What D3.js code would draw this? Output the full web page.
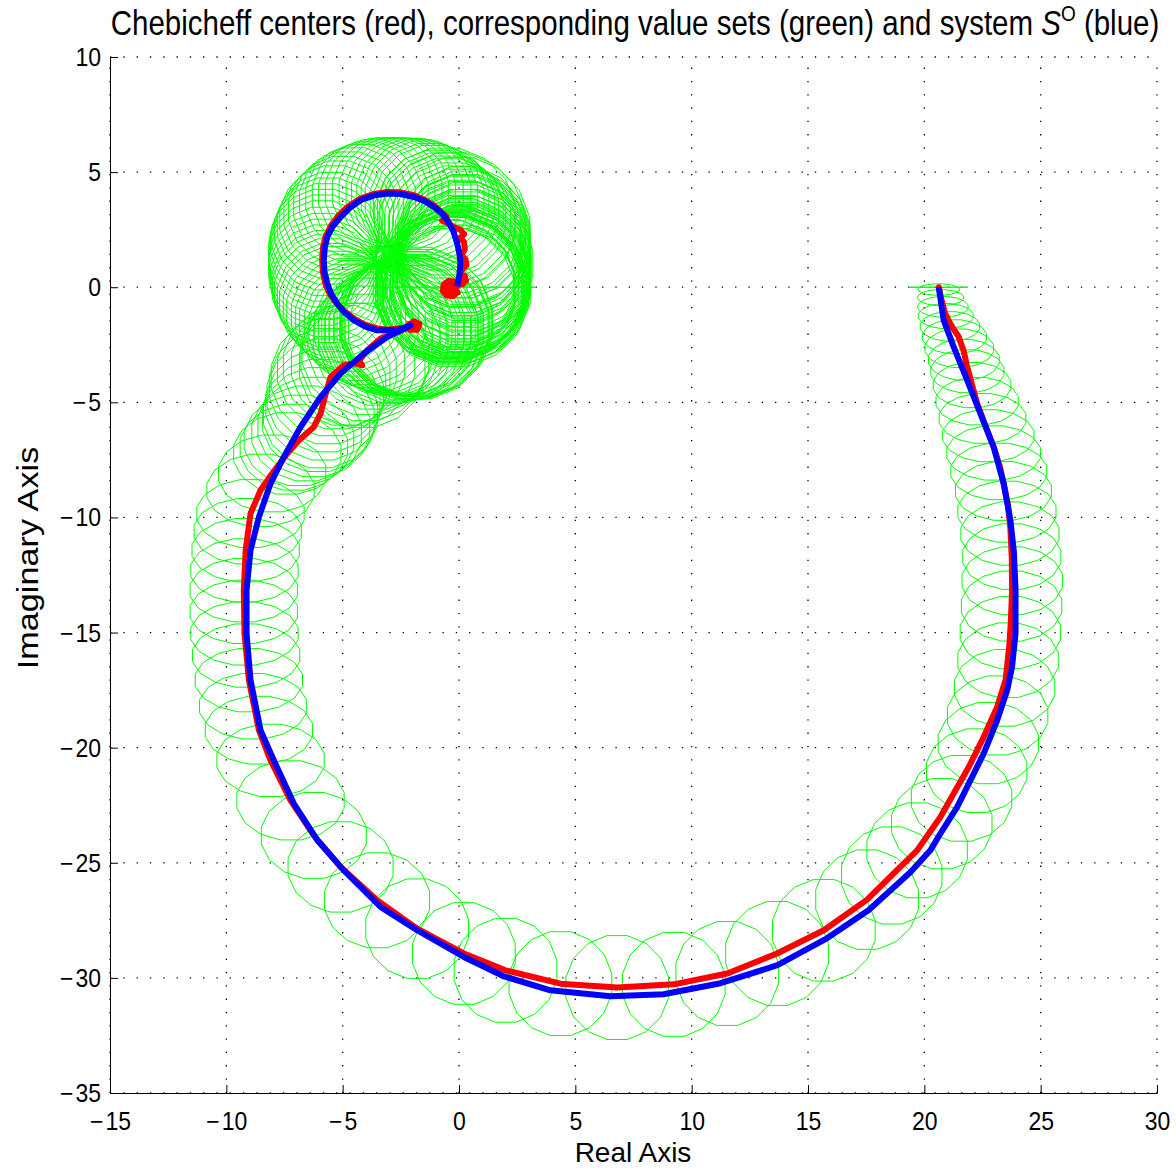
<!DOCTYPE html>
<html>
<head>
<meta charset="utf-8">
<script src="https://cdn.jsdelivr.net/npm/d3@7"></script>
<style>
  html, body { margin: 0; padding: 0; background: #fff; }
  svg { display: block; }
  text { font-family: "Liberation Sans", Arial, Helvetica, sans-serif; fill: #000; }
</style>
</head>
<body>
<svg id="chart" width="1176" height="1168"></svg>
<script>
// Axis ticks
const xTicks = [-15, -10, -5, 0, 5, 10, 15, 20, 25, 30];
const yTicks = [-35, -30, -25, -20, -15, -10, -5, 0, 5, 10];

// Nominal system S^O frequency response (real, imaginary)
const blueRe = [20.62, 20.83, 21.26, 21.84, 22.41, 22.98, 23.41, 23.70, 23.85, 23.92, 23.92, 23.77, 23.56, 23.13, 22.55, 21.98, 21.41, 20.69, 20.26, 19.40, 17.60, 15.75, 13.69, 11.24, 8.79, 6.51, 3.93, 1.90, 0.21, -1.80, -3.37, -4.95, -6.09, -7.10, -7.96, -8.53, -8.96, -9.13, -9.13, -8.96, -8.60, -8.10, -7.53, -6.81, -5.95, -5.09, -4.09, -3.09, -2.08, -2.66, -3.52, -4.05, -4.52, -4.92, -5.24, -5.50, -5.66, -5.78, -5.81, -5.77, -5.66, -5.42, -5.09, -4.69, -4.23, -3.68, -3.09, -2.50, -1.94, -1.48, -1.08, -0.75, -0.50, -0.25, -0.08, 0.02, 0.06, 0.02, -0.08];
const blueIm = [0.00, -1.43, -2.59, -4.04, -5.49, -6.94, -8.53, -10.12, -11.50, -13.16, -15.04, -16.49, -17.51, -18.81, -20.26, -21.42, -22.58, -23.73, -24.46, -25.41, -27.06, -28.32, -29.45, -30.23, -30.71, -30.80, -30.54, -29.92, -29.09, -27.93, -26.92, -25.33, -24.02, -22.43, -20.55, -19.24, -17.07, -15.04, -13.16, -11.42, -9.98, -8.53, -7.37, -6.07, -4.77, -3.75, -2.88, -2.16, -1.65, -1.87, -1.87, -1.70, -1.43, -1.10, -0.71, -0.28, 0.16, 0.66, 1.17, 1.69, 2.19, 2.65, 3.05, 3.45, 3.78, 3.98, 4.07, 4.05, 3.92, 3.74, 3.49, 3.22, 2.91, 2.45, 1.90, 1.45, 1.03, 0.55, 0.04];

// Chebicheff centers (real, imaginary)
const redRe = [
  20.62, 20.75, 20.89, 21.15, 21.48, 21.70, 21.84, 22.27, 22.62, 22.98, 23.25, 23.41, 23.60, 23.70, 23.76, 23.77, 23.72, 23.65, 23.49, 23.13,
  22.55, 21.91, 21.26, 20.69, 19.69, 17.54, 15.68, 13.67, 11.53, 9.23, 6.80, 4.36, 2.00, 0.21, -1.80, -3.52, -5.09, -6.24, -7.24, -8.10,
  -8.60, -9.03, -9.22, -9.25, -9.17, -8.96, -8.53, -8.03, -7.38, -6.88, -6.24, -5.95, -5.75, -5.52, -4.95, -4.45, -4.16, -4.30, -3.95, -3.37,
  -2.80, -2.30, -1.95, -1.70, -1.80, -2.10, -2.15, -1.90, -1.85, -2.00, -2.20,
  -2.66, -3.10, -3.52, -4.05, -4.52, -4.95, -5.31, -5.58, -5.74, -5.85, -5.88, -5.85, -5.74, -5.50, -5.17, -4.75, -4.23, -3.68, -3.09, -2.50,
  -1.94, -1.48, -1.08, -0.80, -0.55, -0.72, -0.50, -0.20, 0.05, 0.22, 0.05, 0.22, 0.25, 0.10, 0.28, 0.32, 0.12,
  0.05, 0.25, 0.30, 0.15, -0.02, 0.08, 0.18,
  -0.05, -0.20, -0.45, -0.66, -0.70, -0.52, -0.25, -0.06, -0.17, -0.30, -0.52, -0.48, -0.28, -0.32, -0.40];
const redIm = [
  0.00, -0.60, -1.14, -1.65, -2.16, -2.80, -3.46, -5.05, -6.00, -6.94, -7.80, -8.53, -9.50, -10.50, -11.80, -13.16, -14.50, -15.60, -17.07, -18.23,
  -19.54, -20.84, -21.99, -23.01, -24.46, -26.60, -27.93, -28.94, -29.81, -30.28, -30.42, -30.25, -29.67, -28.94, -27.86, -26.63, -25.18, -23.81, -22.29, -20.55,
  -19.24, -17.07, -15.04, -13.16, -11.42, -9.83, -8.82, -8.09, -7.22, -6.65, -6.07, -5.49, -4.70, -3.90, -3.39, -3.30, -3.39, -3.20, -2.74, -2.23,
  -2.01, -1.80, -1.48, -1.60, -1.85, -1.85, -1.60, -1.55, -1.70, -1.70, -1.75,
  -1.79, -1.85, -1.79, -1.62, -1.36, -1.02, -0.64, -0.25, 0.16, 0.65, 1.17, 1.70, 2.19, 2.68, 3.13, 3.52, 3.85, 4.05, 4.14, 4.12,
  4.00, 3.80, 3.56, 3.30, 3.08, 2.88, 2.80, 2.60, 2.50, 2.30, 2.15, 1.95, 1.65, 1.40, 1.20, 0.95, 0.75,
  0.60, 0.48, 0.28, 0.13, 0.25, 0.42, 0.30,
  0.05, 0.25, 0.27, 0.12, -0.15, -0.36, -0.38, -0.22, -0.02, 0.12, 0.02, -0.22, -0.24, -0.06, -0.06];

// Value sets: center (real, imaginary) and half-widths along the two axes
const setRe = [
  20.60, 20.62, 20.70, 20.80, 20.92, 21.10, 21.30, 21.50, 21.70, 21.85,
  22.05, 22.27, 22.50, 22.75, 22.98, 23.20, 23.40, 23.55, 23.68, 23.76,
  23.78, 23.75, 23.70, 23.60, 23.45, 23.15, 22.75, 22.25, 21.60, 20.75,
  19.69, 18.60, 17.54, 15.68, 13.67, 11.53, 9.23, 6.80, 4.36, 2.00,
  0.21, -1.80, -3.52, -5.09, -6.24, -7.24, -8.10, -8.60, -8.85, -9.03,
  -9.15, -9.22, -9.25, -9.25, -9.22, -9.17, -9.08, -8.96, -8.53, -8.03,
  -7.38, -7.10, -6.88, -6.55, -6.24, -6.05, -5.95, -5.85, -5.75, -5.65,
  -5.52, -5.25, -4.95, -4.55, -4.16, -4.05, -3.95, -3.65, -3.37, -3.10,
  -2.80, -2.55, -2.30, -2.10, -1.94, -1.85, -2.00,
  -1.75, -1.80, -2.05, -2.20, -1.95, -1.85,
  -2.40, -2.66, -2.90, -3.10, -3.30, -3.52, -3.80, -4.05, -4.30, -4.52,
  -4.75, -4.95, -5.15, -5.31, -5.45, -5.58, -5.66, -5.74, -5.80, -5.85,
  -5.87, -5.88, -5.87, -5.85, -5.80, -5.74, -5.63, -5.50, -5.35, -5.17,
  -4.97, -4.75, -4.50, -4.23, -3.95, -3.68, -3.39, -3.09, -2.80, -2.50,
  -2.22, -1.94, -1.70, -1.48, -1.27, -1.08, -0.90, -0.75, -0.65, -0.48,
  -0.30, -0.12, 0.06, 0.18, 0.21, 0.25, 0.28, 0.20, 0.14, 0.18,
  0.14, 0.05, -0.05, -0.15, -0.22, -0.30, -0.37, -0.45, -0.30, -0.20,
  -0.45, -0.35, -0.25, -0.10,
  0.30, 0.25, 0.15, 0.28, 0.20, 0.32, 0.25, 0.12, 0.30, 0.20,
  0.05, 0.25, 0.30, 0.10, -0.05, -0.20, -0.50, -0.60, -0.55, -0.35,
  -0.15, -0.05, -0.40, -0.25, -0.10, 0.00, 0.10, 0.15, 0.10,
  -0.60, -0.30, 0.00, 0.20,
  0.00];
const setIm = [
  0.00, -0.10, -0.45, -0.85, -1.25, -1.70, -2.15, -2.65, -3.15, -3.65,
  -4.25, -4.95, -5.70, -6.45, -7.20, -8.00, -8.85, -9.75, -10.70, -11.70,
  -12.75, -13.85, -15.00, -16.20, -17.40, -18.60, -19.80, -21.00, -22.20, -23.30,
  -24.46, -25.55, -26.60, -27.93, -28.94, -29.81, -30.28, -30.42, -30.25, -29.67,
  -28.94, -27.86, -26.63, -25.18, -23.81, -22.29, -20.55, -19.24, -18.20, -17.07,
  -16.00, -15.04, -14.10, -13.16, -12.30, -11.42, -10.60, -9.83, -8.82, -8.09,
  -7.22, -6.95, -6.65, -6.35, -6.07, -5.75, -5.49, -5.10, -4.70, -4.30,
  -3.90, -3.60, -3.39, -3.35, -3.39, -3.05, -2.74, -2.45, -2.23, -2.10,
  -2.01, -1.90, -1.80, -1.72, -1.65, -1.60, -1.80,
  -1.55, -1.75, -1.60, -1.75, -1.85, -1.50,
  -1.76, -1.79, -1.83, -1.85, -1.83, -1.79, -1.72, -1.62, -1.50, -1.36,
  -1.20, -1.02, -0.84, -0.64, -0.45, -0.25, -0.05, 0.16, 0.40, 0.65,
  0.90, 1.17, 1.45, 1.70, 1.95, 2.19, 2.44, 2.68, 2.92, 3.13,
  3.33, 3.52, 3.70, 3.85, 3.96, 4.05, 4.11, 4.14, 4.14, 4.12,
  4.07, 4.00, 3.91, 3.80, 3.69, 3.56, 3.35, 3.18, 3.05, 2.88,
  2.70, 2.52, 2.33, 2.05, 1.75, 1.40, 1.03, 0.80, 0.60, 0.45,
  0.30, 0.20, 0.10, 0.05, 0.01, -0.02, -0.06, -0.10, -0.15, -0.10,
  0.05, 0.10, -0.20, 0.00,
  2.20, 2.00, 1.85, 1.60, 1.45, 1.25, 1.10, 0.95, 0.85, 0.70,
  0.55, 0.45, 0.30, 0.15, 0.30, 0.20, 0.20, -0.05, -0.30, -0.35,
  -0.30, -0.10, 0.15, 0.00, 0.40, 0.90, 1.30, 1.70, 2.10,
  3.00, 2.70, 2.40, 2.00,
  0.00];
const setRx = [
  1.30, 0.90, 1.00, 1.10, 1.20, 1.30, 1.40, 1.50, 1.55, 1.60,
  1.70, 1.80, 1.90, 2.00, 2.05, 2.10, 2.10, 2.15, 2.15, 2.15,
  2.20, 2.20, 2.20, 2.20, 2.20, 2.20, 2.20, 2.20, 2.20, 2.20,
  2.20, 2.20, 2.25, 2.25, 2.25, 2.25, 2.25, 2.25, 2.25, 2.25,
  2.25, 2.25, 2.30, 2.30, 2.30, 2.35, 2.35, 2.35, 2.35, 2.35,
  2.35, 2.35, 2.35, 2.35, 2.35, 2.35, 2.35, 2.35, 2.35, 2.35,
  2.35, 2.35, 2.40, 2.40, 2.45, 2.45, 2.50, 2.50, 2.55, 2.55,
  2.60, 2.60, 2.65, 2.70, 2.75, 2.80, 2.85, 2.90, 2.95, 3.00,
  3.05, 3.10, 3.15, 3.20, 3.25, 3.20, 3.10,
  3.25, 3.15, 3.05, 2.95, 2.85, 3.30,
  3.00, 2.95, 2.90, 2.85, 2.80, 2.75, 2.70, 2.65, 2.60, 2.55,
  2.50, 2.50, 2.45, 2.45, 2.40, 2.40, 2.40, 2.35, 2.35, 2.35,
  2.35, 2.35, 2.35, 2.35, 2.35, 2.35, 2.35, 2.35, 2.40, 2.40,
  2.40, 2.40, 2.40, 2.40, 2.40, 2.40, 2.40, 2.40, 2.40, 2.40,
  2.45, 2.50, 2.55, 2.60, 2.60, 2.65, 2.65, 2.70, 2.70, 2.75,
  2.75, 2.80, 2.85, 2.85, 2.90, 2.90, 2.95, 2.95, 2.90, 2.90,
  3.00, 3.05, 3.10, 3.10, 3.15, 3.15, 3.20, 3.20, 3.25, 3.25,
  3.30, 3.30, 3.30, 3.25,
  2.80, 2.85, 2.95, 2.80, 2.90, 2.78, 2.85, 2.98, 2.80, 2.90,
  3.05, 2.85, 2.80, 3.00, 3.15, 3.30, 3.10, 3.05, 3.00, 2.95,
  2.90, 2.85, 2.80, 2.75, 2.70, 2.65, 2.60, 2.60, 2.60,
  3.10, 3.20, 3.10, 2.90,
  3.35];
const setRy = [
  0.00, 0.25, 0.35, 0.45, 0.55, 0.65, 0.75, 0.85, 0.90, 0.95,
  1.00, 1.05, 1.10, 1.15, 1.20, 1.25, 1.30, 1.35, 1.40, 1.45,
  1.50, 1.55, 1.60, 1.65, 1.70, 1.75, 1.80, 1.85, 1.90, 2.00,
  2.10, 2.15, 2.20, 2.25, 2.30, 2.30, 2.30, 2.30, 2.30, 2.30,
  2.25, 2.20, 2.10, 2.00, 1.90, 1.75, 1.60, 1.50, 1.45, 1.40,
  1.40, 1.40, 1.40, 1.40, 1.40, 1.40, 1.45, 1.50, 1.60, 1.70,
  1.80, 1.90, 2.00, 2.10, 2.20, 2.30, 2.40, 2.45, 2.50, 2.55,
  2.60, 2.60, 2.65, 2.70, 2.75, 2.80, 2.85, 2.90, 2.95, 3.00,
  3.05, 3.10, 3.15, 3.20, 3.25, 3.20, 3.10,
  3.25, 3.15, 3.05, 2.95, 2.85, 3.30,
  3.00, 2.95, 2.90, 2.85, 2.80, 2.75, 2.70, 2.65, 2.60, 2.55,
  2.50, 2.50, 2.45, 2.45, 2.40, 2.40, 2.40, 2.35, 2.35, 2.35,
  2.35, 2.35, 2.35, 2.35, 2.35, 2.35, 2.35, 2.35, 2.40, 2.40,
  2.40, 2.40, 2.40, 2.40, 2.40, 2.40, 2.40, 2.40, 2.40, 2.40,
  2.45, 2.50, 2.55, 2.60, 2.60, 2.65, 2.65, 2.70, 2.70, 2.75,
  2.75, 2.80, 2.85, 2.85, 2.90, 2.90, 2.95, 2.95, 3.00, 3.00,
  3.05, 3.05, 3.10, 3.10, 3.15, 3.15, 3.20, 3.20, 3.25, 3.25,
  3.20, 3.25, 3.30, 3.30,
  2.90, 2.95, 3.00, 3.00, 3.05, 3.05, 3.10, 3.10, 3.15, 3.15,
  3.20, 3.20, 3.25, 3.25, 3.20, 3.25, 3.10, 3.05, 3.00, 2.95,
  2.90, 2.85, 2.80, 2.75, 2.70, 2.65, 2.60, 2.60, 2.60,
  3.10, 3.20, 3.30, 3.30,
  0.00];

const svg = d3.select("#chart");
const M = { left: 110, right: 1157, top: 57, bottom: 1093 };

const x = d3.scaleLinear().domain([-15, 30]).range([M.left, M.right]);
const y = d3.scaleLinear().domain([-35, 10]).range([M.bottom, M.top]);

// Dotted grid
const grid = svg.append("g").attr("stroke", "#000").attr("stroke-width", 1.3)
  .attr("stroke-dasharray", "1.3,12").attr("fill", "none");
xTicks.forEach(t => grid.append("line")
  .attr("x1", x(t)).attr("x2", x(t)).attr("y1", M.bottom).attr("y2", M.top));
yTicks.forEach(t => grid.append("line")
  .attr("y1", y(t)).attr("y2", y(t)).attr("x1", M.left).attr("x2", M.right));

const plot = svg.append("g");

// Value sets (green polygons)
const nSides = 16;
const setLine = d3.line().curve(d3.curveLinearClosed);
setRe.forEach((cx, i) => {
  const pts = d3.range(nSides).map(k => {
    const a = (k + 0.5) * 2 * Math.PI / nSides;
    return [x(cx + setRx[i] * Math.cos(a)), y(setIm[i] + setRy[i] * Math.sin(a))];
  });
  plot.append("path").attr("d", setLine(pts))
    .attr("fill", "none").attr("stroke", "#00ff00").attr("stroke-width", 1);
});

// Chebicheff centers
const line = d3.line().x(d => x(d[0])).y(d => y(d[1]));
plot.append("path").attr("d", line(d3.zip(redRe, redIm)))
  .attr("fill", "none").attr("stroke", "#ff0000").attr("stroke-width", 6)
  .attr("stroke-linejoin", "round").attr("stroke-linecap", "round");

// System S^O
plot.append("path").attr("d", line(d3.zip(blueRe, blueIm)))
  .attr("fill", "none").attr("stroke", "#0000ff").attr("stroke-width", 6)
  .attr("stroke-linejoin", "round").attr("stroke-linecap", "butt");

// Axes (left and bottom only, ticks inward)
const xAxis = d3.axisBottom(x).tickValues(xTicks).tickSizeInner(-8).tickSizeOuter(0);
const yAxis = d3.axisLeft(y).tickValues(yTicks).tickSizeInner(-8).tickSizeOuter(0);

const gx = svg.append("g").attr("transform", `translate(0,${M.bottom})`).call(xAxis);
const gy = svg.append("g").attr("transform", `translate(${M.left},0)`).call(yAxis);

function tickLabel(sel) {
  sel.each(function (v) {
    const t = d3.select(this);
    t.text(null).style("font-size", "23px").attr("fill", "#000");
    if (v < 0) {
      t.append("tspan").text("\u2212");
      t.append("tspan").attr("dx", 2).text(Math.abs(v));
    } else {
      t.text(v);
    }
  });
}
[gx, gy].forEach(g => {
  g.select(".domain").attr("stroke", "#000").attr("stroke-width", 1);
  g.selectAll(".tick line").attr("stroke", "#000").attr("stroke-width", 1);
});
gx.selectAll(".tick text").call(tickLabel)
  .attr("y", 0).attr("dy", 0)
  .attr("transform", "translate(0,37) scale(1,1.1)");
gy.selectAll(".tick text").call(tickLabel)
  .attr("x", 0).attr("dy", 0)
  .attr("transform", "translate(-9,8.5) scale(1,1.1)");

// Title and axis labels
const title = svg.append("text").attr("text-anchor", "middle")
  .attr("transform", "translate(635,35) scale(1,1.16)")
  .style("font-size", "29.5px");
title.append("tspan").text("Chebicheff centers (red), corresponding value sets (green) and system ");
title.append("tspan").style("font-style", "italic").text("S");
title.append("tspan").attr("dy", -12).style("font-size", "19px").text("O");
title.append("tspan").attr("dy", 12).text(" (blue)");

svg.append("text").attr("text-anchor", "middle")
  .attr("transform", "translate(633,1162)")
  .style("font-size", "28px").text("Real Axis");
svg.append("text").attr("text-anchor", "middle")
  .attr("transform", "translate(38,558) scale(1,1.16) rotate(-90)")
  .style("font-size", "29.5px").text("Imaginary Axis");
</script>
</body>
</html>
